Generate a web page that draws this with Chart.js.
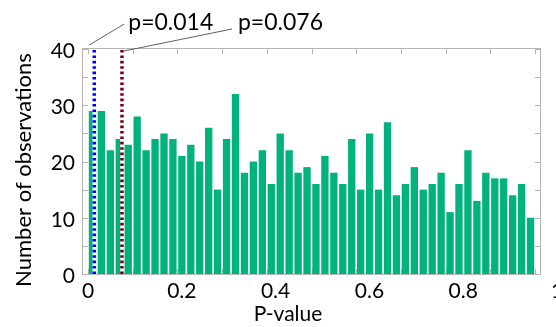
<!DOCTYPE html>
<html>
<head>
<meta charset="utf-8">
<script src="https://cdn.jsdelivr.net/npm/chart.js@4.4.1/dist/chart.umd.min.js"></script>
<style>
html,body{margin:0;padding:0;background:#fff;overflow:hidden;width:556px;height:327px}
#wrap{position:absolute;left:0;top:0;width:576px;height:327px}
</style>
</head>
<body>
<div id="wrap"><canvas id="c" width="576" height="327"></canvas></div>
<script>
// ---- data ----
const binCenters = [0.01,0.03,0.05,0.07,0.09,0.11,0.13,0.15,0.17,0.19,
                    0.21,0.23,0.25,0.27,0.29,0.31,0.33,0.35,0.37,0.39,
                    0.41,0.43,0.45,0.47,0.49,0.51,0.53,0.55,0.57,0.59,
                    0.61,0.63,0.65,0.67,0.69,0.71,0.73,0.75,0.77,0.79,
                    0.81,0.83,0.85,0.87,0.89,0.91,0.93,0.95,0.97,0.99];
const counts = [29,29,22,24,23,28,22,24,25,24,
                21,23,20,26,15,24,32,18,20,22,
                16,25,22,18,19,16,21,18,16,24,
                15,25,15,27,14,16,19,15,16,18,
                11,16,22,13,18,17,17,14,16,10];
const markerValues = [0.014, 0.076];
const markerLabels = ['p=0.014', 'p=0.076'];
const markerColors = ['#0000ff', '#7a0010'];
const xTickValues = [0, 0.2, 0.4, 0.6, 0.8, 1];
const xTickLabels = ['0', '0.2', '0.4', '0.6', '0.8', '1'];
const xMinorTicks = [0,0.1,0.2,0.3,0.4,0.5,0.6,0.7,0.8,0.9,1];
const yMinorTicks = [0,5,10,15,20,25,30,35,40];
const yMin = 0, yMax = 40, yStep = 10;
const xTitle = 'P-value';
const yTitle = 'Number of observations';

const FONT = 'Lato';
Chart.defaults.font.family = FONT;

const framePlugin = {
  id: 'frame',
  beforeDatasetsDraw(chart) {
    const {ctx, chartArea: a, scales: {x, y}} = chart;
    ctx.save();
    ctx.strokeStyle = '#b4b4b4';
    ctx.lineWidth = 1;
    ctx.strokeRect(a.left - 0.5, a.top - 0.5, a.right - a.left + 1, a.bottom - a.top + 1);
    ctx.beginPath();
    xMinorTicks.forEach(v => {
      const px = Math.round(x.getPixelForValue(v)) + 0.5;
      ctx.moveTo(px, a.top); ctx.lineTo(px, a.top + 5);
      ctx.moveTo(px, a.bottom); ctx.lineTo(px, a.bottom - 5);
    });
    yMinorTicks.forEach(v => {
      const py = Math.round(y.getPixelForValue(v)) + 0.5;
      ctx.moveTo(a.left, py); ctx.lineTo(a.left + 5, py);
      ctx.moveTo(a.right, py); ctx.lineTo(a.right - 5, py);
    });
    ctx.stroke();
    ctx.restore();
  }
};

const leaderPlugin = {
  id: 'leaders',
  afterDraw(chart) {
    const {ctx, scales: {x, y}} = chart;
    const top = y.getPixelForValue(yMax);
    // [lineStartDx, lineStartDy, lineEndDx, lineEndDy, textDx, textDy]
    const geo = [[-5, -4, 30, -25, 34, -19], [2, 2, 110, -20, 116, -19]];
    ctx.save();
    ctx.strokeStyle = '#606060';
    ctx.lineWidth = 1;
    ctx.fillStyle = '#000';
    ctx.font = '23px ' + FONT;
    ctx.textBaseline = 'alphabetic';
    ctx.textAlign = 'left';
    markerValues.forEach((v, i) => {
      const px = x.getPixelForValue(v);
      const g = geo[i];
      ctx.beginPath();
      ctx.moveTo(px + g[0], top + g[1]);
      ctx.lineTo(px + g[2], top + g[3]);
      ctx.stroke();
      ctx.fillText(markerLabels[i], px + g[4], top + g[5]);
    });
    ctx.restore();
  }
};

const datasets = [{
  type: 'bar',
  label: 'Observations',
  data: binCenters.map((c, i) => ({x: c, y: counts[i]})),
  backgroundColor: '#00b27b',
  borderWidth: 0,
  barPercentage: 0.82,
  categoryPercentage: 1,
  order: 3
}];
markerValues.forEach((v, i) => {
  datasets.push({
    type: 'line', label: markerLabels[i] + ' bg',
    data: [{x: v, y: yMin}, {x: v, y: yMax}],
    borderColor: '#ffffff', borderWidth: 3.5, pointRadius: 0, order: 2
  });
  datasets.push({
    type: 'line', label: markerLabels[i],
    data: [{x: v, y: yMin}, {x: v, y: yMax}],
    borderColor: markerColors[i], borderWidth: 3.5, borderDash: [2.6, 2.8],
    pointRadius: 0, order: 1
  });
});

const hiddenAxis = (position, size) => ({
  type: 'linear', position, display: true,
  grid: {display: false, drawTicks: false},
  border: {display: false},
  ticks: {display: false},
  afterFit(scale) { if (position === 'top') scale.height = size; else scale.width = size; }
});

new Chart(document.getElementById('c'), {
  type: 'bar',
  data: {datasets},
  options: {
    responsive: false,
    devicePixelRatio: 1,
    animation: false,
    layout: {padding: {left: 0, right: 0, top: 13, bottom: 0}},
    plugins: {
      legend: {display: false},
      tooltip: {enabled: false},
      title: {
        display: true, text: xTitle, position: 'bottom',
        font: {family: FONT, size: 21, weight: 'normal'}, color: '#000',
        padding: {top: 0, bottom: 0}
      },
      subtitle: {
        display: true, text: yTitle, position: 'left', fullSize: true,
        font: {family: FONT, size: 22, weight: 'normal'}, color: '#000',
        padding: {top: 11, bottom: 0}
      }
    },
    scales: {
      x: {
        type: 'linear', position: 'bottom', display: false, offset: false,
        min: -5 / 447, max: -5 / 447 + 457 / 447
      },
      x2: {
        type: 'linear', position: 'bottom', offset: false,
        min: -5 / 469, max: -5 / 469 + 457 / 469,
        grid: {display: false, drawTicks: false},
        border: {display: false},
        afterBuildTicks(scale) { scale.ticks = xTickValues.map(v => ({value: v})); },
        afterFit(scale) { scale.height = 327 - 25.2 - 274; },
        ticks: {
          autoSkip: false, maxRotation: 0, padding: 5,
          font: {family: FONT, size: 21}, color: '#000',
          callback: (v, i) => xTickLabels[i]
        }
      },
      xTopSpace: hiddenAxis('top', 36),
      y: {
        type: 'linear', position: 'left', min: yMin, max: yMax,
        grid: {display: false, drawTicks: false},
        border: {display: false},
        afterFit(scale) { scale.width = 83 - 37.4; },
        ticks: {stepSize: yStep, padding: 8, labelOffset: 2, font: {family: FONT, size: 21}, color: '#000'}
      },
      yRightSpace: hiddenAxis('right', 36)
    }
  },
  plugins: [framePlugin, leaderPlugin]
});
</script>
</body>
</html>
